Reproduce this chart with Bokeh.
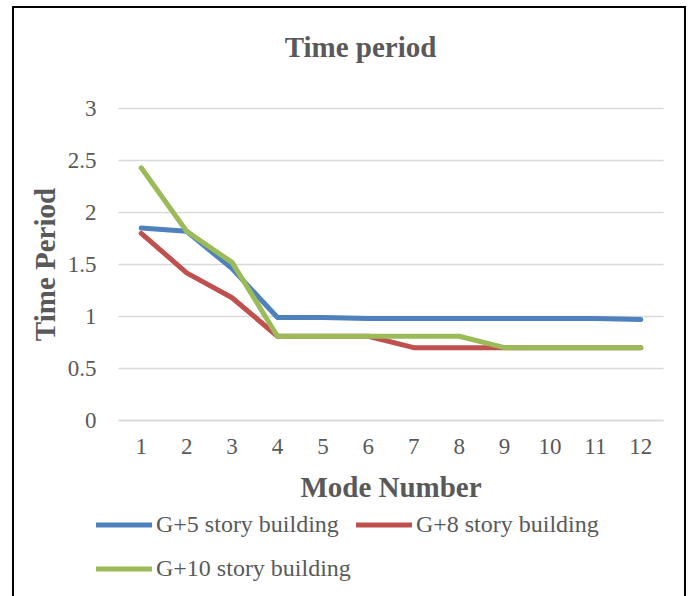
from bokeh.plotting import figure
from bokeh.models import Range1d, FixedTicker, Legend, LegendItem, Label, ColumnDataSource, Grid
from bokeh.embed import file_html
from bokeh.resources import INLINE

modes = [1, 2, 3, 4, 5, 6, 7, 8, 9, 10, 11, 12]
g5 = [1.85, 1.82, 1.46, 0.99, 0.99, 0.98, 0.98, 0.98, 0.98, 0.98, 0.98, 0.97]
g8 = [1.80, 1.42, 1.18, 0.81, 0.81, 0.81, 0.70, 0.70, 0.70, 0.70, 0.70, 0.70]
g10 = [2.43, 1.82, 1.52, 0.81, 0.81, 0.81, 0.81, 0.81, 0.70, 0.70, 0.70, 0.70]
series_names = ["G+5 story building", "G+8 story building", "G+10 story building"]
colors = ["#4f81bd", "#c0504d", "#9bbb59"]
y_ticks = [0, 0.5, 1, 1.5, 2, 2.5, 3]
y_tick_labels = ["0", "0.5", "1", "1.5", "2", "2.5", "3"]
chart_title = "Time period"

FONT = "Liberation Serif"
TXT = "#595959"
GRID = "#d9d9d9"

# category band edges of the plot area
x_lo, x_hi = modes[0] - 0.5, modes[-1] + 0.5
y_lo, y_hi = y_ticks[0], y_ticks[-1]

p = figure(x_range=Range1d(-1.790, 12.9615), y_range=Range1d(-1.6923, 3.9615),
           frame_width=670, frame_height=588,
           min_border_left=0, min_border_right=0, min_border_top=0, min_border_bottom=0,
           output_backend="svg", toolbar_location=None, title=None)
p.styles = {"margin-left": "12px", "margin-top": "6px",
            "border-top": "2px solid #000", "border-left": "2px solid #000", "border-right": "2px solid #000"}
p.outline_line_color = None
p.background_fill_color = "white"
p.border_fill_color = "white"

p.add_layout(Label(x=5.828, y=3.587, text=chart_title, text_align="center", text_baseline="middle",
                   text_font=FONT, text_font_size="29px", text_font_style="bold", text_color=TXT))

# gridlines
p.xgrid.grid_line_color = None
if "cross_bounds" in Grid.properties():
    p.ygrid.grid_line_color = GRID
    p.ygrid.grid_line_width = 1.5
    p.ygrid.cross_bounds = (x_lo, x_hi)
else:
    p.ygrid.grid_line_color = None
    p.segment(x0=[x_lo] * len(y_ticks), x1=[x_hi] * len(y_ticks), y0=y_ticks, y1=y_ticks,
              line_color=GRID, line_width=1.5)

src = ColumnDataSource(dict(x=modes, g5=g5, g8=g8, g10=g10))
renderers = []
for key, c in zip(["g5", "g8", "g10"], colors):
    r = p.line("x", key, source=src, line_color=c, line_width=5, line_join="round", line_cap="round")
    renderers.append(r)

# y axis
p.yaxis.fixed_location = x_lo
p.yaxis.bounds = (y_lo, y_hi)
p.yaxis.ticker = FixedTicker(ticks=y_ticks)
p.yaxis.major_label_overrides = {tk: lb for tk, lb in zip(y_ticks, y_tick_labels)}
p.yaxis.axis_line_color = None
p.yaxis.major_tick_line_color = None
p.yaxis.minor_tick_line_color = None
p.yaxis.major_label_standoff = 16
p.yaxis.major_label_text_font = FONT
p.yaxis.major_label_text_font_size = "23px"
p.yaxis.major_label_text_color = TXT
p.yaxis.axis_label = "Time Period"
p.yaxis.axis_label_text_font = FONT
p.yaxis.axis_label_text_font_size = "29px"
p.yaxis.axis_label_text_font_style = "bold"
p.yaxis.axis_label_text_color = TXT
p.yaxis.axis_label_standoff = 4

# x axis
p.xaxis.fixed_location = y_lo
p.xaxis.bounds = (x_lo, x_hi)
p.xaxis.ticker = FixedTicker(ticks=modes)
p.xaxis.axis_line_color = GRID
p.xaxis.axis_line_width = 1.5
p.xaxis.major_tick_line_color = None
p.xaxis.minor_tick_line_color = None
p.xaxis.major_label_standoff = 13
p.xaxis.major_label_text_font = FONT
p.xaxis.major_label_text_font_size = "23px"
p.xaxis.major_label_text_color = TXT
p.xaxis.axis_label = "Mode Number"
p.xaxis.axis_label_text_font = FONT
p.xaxis.axis_label_text_font_size = "29px"
p.xaxis.axis_label_text_font_style = "bold"
p.xaxis.axis_label_text_color = TXT
p.xaxis.axis_label_standoff = 13

legend = Legend(items=[LegendItem(label=n, renderers=[r]) for n, r in zip(series_names, renderers)],
                orientation="horizontal", ncols=2, location=(82, 8),
                padding=0, margin=0, spacing=5,
                glyph_width=56, glyph_height=39, label_height=39, label_standoff=4,
                label_text_font=FONT, label_text_font_size="24px", label_text_color=TXT,
                background_fill_alpha=0, border_line_alpha=0)
p.add_layout(legend, "center")

open("out.html", "w").write(file_html(p, INLINE))
